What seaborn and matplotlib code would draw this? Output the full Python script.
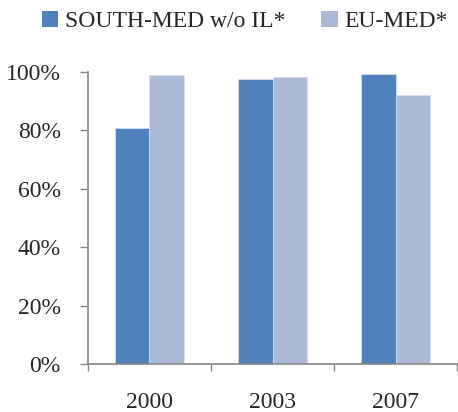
import pandas as pd
import matplotlib.pyplot as plt
import seaborn as sns
from matplotlib.ticker import PercentFormatter, FixedLocator
from matplotlib.patches import Patch

# -----------------------------
# Dati
# -----------------------------
years = ['2000', '2003', '2007']
series = ['SOUTH-MED w/o IL*', 'EU-MED*']
south_med = [0.81, 0.975, 0.995]
eu_med = [0.989, 0.982, 0.92]
colors = ['#4F81BD', '#AABAD7']

df = pd.DataFrame({
    'Year': years * 2,
    'Serie': [series[0]] * 3 + [series[1]] * 3,
    'Value': south_med + eu_med,
})

# -----------------------------
# Grafico
# -----------------------------
sns.set_style('white')
plt.rcParams['font.family'] = ['Liberation Serif', 'DejaVu Serif']

fig = plt.figure(figsize=(4.58, 4.12), dpi=100)
ax = fig.add_axes([0.192, 0.1165, 0.806, 0.7085])

sns.barplot(data=df, x='Year', y='Value', hue='Serie', palette=colors,
            saturation=1, width=0.56, edgecolor='#D5DEEC', linewidth=0.6,
            ax=ax, legend=False)

ax.set_xlim(-0.5, 2.5)
ax.set_ylim(0, 1.0)
ax.set_yticks([0, 0.2, 0.4, 0.6, 0.8, 1.0])
ax.yaxis.set_major_formatter(PercentFormatter(1.0, decimals=0))
ax.xaxis.set_minor_locator(FixedLocator([-0.5, 0.5, 1.5, 2.5]))
ax.tick_params(axis='y', which='major', length=6, width=1, color='#868686',
               direction='out', left=True, pad=13.5, labelsize=17)
ax.tick_params(axis='x', which='major', length=0, pad=20, labelsize=17)
ax.tick_params(axis='x', which='minor', length=5, width=1, color='#868686',
               direction='out', bottom=True)
ax.set_xlabel('')
ax.set_ylabel('')

for s in ['top', 'right']:
    ax.spines[s].set_visible(False)
for s in ['left', 'bottom']:
    ax.spines[s].set_color('#868686')
    ax.spines[s].set_linewidth(1.2)

handles = [Patch(facecolor=c, edgecolor='none') for c in colors]
fig.legend(handles, series, loc='upper center', bbox_to_anchor=(0.535, 1.025),
           ncol=2, frameon=False, fontsize=17, handlelength=0.7,
           handleheight=0.7, handletextpad=0.3, columnspacing=1.5)

fig.savefig('out.png', dpi=100)
